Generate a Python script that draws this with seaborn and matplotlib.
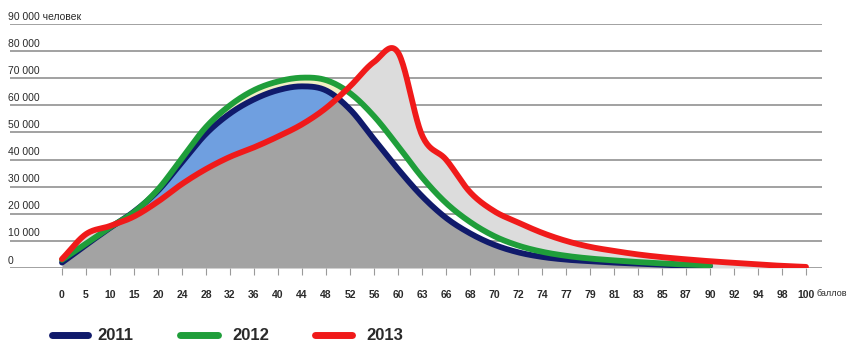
import numpy as np
import pandas as pd
import matplotlib
matplotlib.use("Agg")
import matplotlib.pyplot as plt
from matplotlib.lines import Line2D
import seaborn as sns

# Score categories along the x axis (equally spaced)
score_labels = ["0", "5", "10", "15", "20", "24", "28", "32", "36", "40", "44", "48",
                "52", "56", "60", "63", "66", "68", "70", "72", "74", "77", "79", "81",
                "83", "85", "87", "90", "92", "94", "98", "100"]

# Number of participants per score, by year
students_2011 = [2000, 8500, 14800, 20800, 28500, 39000, 49500, 57000, 62200, 65600,
                 67000, 65500, 58500, 47500, 36500, 26500, 18500, 12800, 8600, 5800,
                 4100, 3100, 2500, 2000, 1600, 1200, 900, 700]
students_2012 = [3000, 9000, 15000, 20600, 29000, 40500, 52000, 60000, 65600, 68800,
                 70200, 69300, 64500, 56000, 45000, 33500, 24000, 17000, 11800, 8300,
                 6000, 4500, 3500, 2800, 2200, 1700, 1300, 1000]
students_2013 = [3300, 12500, 15500, 19000, 24500, 31000, 36500, 41000, 44500, 48500,
                 53000, 59000, 67000, 76000, 79500, 49000, 40000, 28000, 21000, 16800,
                 13000, 10000, 7800, 6300, 5000, 4000, 3200, 2500, 1900, 1300, 800, 400]

y_ticks = [0, 10000, 20000, 30000, 40000, 50000, 60000, 70000, 80000, 90000]
y_tick_labels = ["0", "10 000", "20 000", "30 000", "40 000", "50 000", "60 000",
                 "70 000", "80 000", "90 000 человек"]
years = ["2011", "2012", "2013"]
colors = {"2011": "#101a6b", "2012": "#1f9e3a", "2013": "#f01a1a"}

STEPS = 24
W, H = 853, 345


def smooth(values):
    """Catmull-Rom curve through equally spaced category positions."""
    p = np.asarray(values, dtype=float)
    ext = np.concatenate([[2 * p[0] - p[1]], p, [2 * p[-1] - p[-2]]])
    xs, ys = [], []
    t = np.linspace(0, 1, STEPS, endpoint=False)
    for k in range(len(p) - 1):
        p0, p1, p2, p3 = ext[k], ext[k + 1], ext[k + 2], ext[k + 3]
        y = 0.5 * ((2 * p1) + (-p0 + p2) * t + (2 * p0 - 5 * p1 + 4 * p2 - p3) * t ** 2
                   + (-p0 + 3 * p1 - 3 * p2 + p3) * t ** 3)
        xs.append(k + t)
        ys.append(y)
    xs.append([len(p) - 1])
    ys.append([p[-1]])
    return np.concatenate(xs), np.concatenate(ys)


x11, y11 = smooth(students_2011)
x12, y12 = smooth(students_2012)
x13, y13 = smooth(students_2013)

curves = pd.concat([
    pd.DataFrame({"pos": x11, "students": y11, "year": "2011"}),
    pd.DataFrame({"pos": x12, "students": y12, "year": "2012"}),
    pd.DataFrame({"pos": x13, "students": y13, "year": "2013"}),
], ignore_index=True)

sns.set_theme(style="white")
plt.rcParams["font.family"] = ["Liberation Sans Narrow", "Liberation Sans", "DejaVu Sans"]

fig = plt.figure(figsize=(W / 100, H / 100), dpi=100)
ax = fig.add_axes([10 / W, 1 - 268 / H, 812 / W, 244 / H])

# Shaded areas between the three distributions
n = len(x11)
y13c = y13[:n]
low = np.minimum(np.minimum(y11, y12), y13c)
ax.fill_between(x11, 0, low, color="#a3a3a3", lw=0, zorder=1)
ax.fill_between(x11, y13c, y11, where=y11 > y13c, color="#6f9fe0", lw=0,
                interpolate=True, zorder=1)
top_other = np.maximum(y11, y12)
ax.fill_between(x11, np.maximum(y11, y13c), y12, where=y12 > np.maximum(y11, y13c),
                color="#f1efc4", lw=0, interpolate=True, zorder=1)
ax.fill_between(x11, top_other, y13c, where=y13c > top_other, color="#dcdcdc", lw=0,
                interpolate=True, zorder=1)
ax.fill_between(x13[n - 1:], 0, y13[n - 1:], color="#dcdcdc", lw=0, zorder=1)

# Horizontal grid lines
for v in y_ticks:
    ax.axhline(v, color="#9a9a9a", lw=1.3, zorder=0.5)

sns.lineplot(data=curves, x="pos", y="students", hue="year", hue_order=years,
             palette=colors, lw=4.2, legend=False, sort=False, ax=ax, zorder=3,
             solid_capstyle="round")

ax.set_xlim(-52 / 24, 31 + 16 / 24)
ax.set_ylim(0, 90000)
for s in ax.spines.values():
    s.set_visible(False)
ax.set_xlabel("")
ax.set_ylabel("")
ax.set_yticks([])

ax.set_xticks(range(len(score_labels)))
ax.set_xticklabels(score_labels, fontsize=7.5, fontweight="bold", color="#2a2a2a")
ax.tick_params(axis="x", bottom=True, length=5, width=0.8, color="#9a9a9a", pad=11)
fig.text(817 / W, 1 - 293 / H, "баллов", fontsize=6.5, color="#2a2a2a",
         ha="left", va="center")

# Y labels sit just above their grid lines at the left edge
for v, lab in zip(y_ticks, y_tick_labels):
    ax.text(-0.0025, v + 900, lab, transform=ax.get_yaxis_transform(),
            fontsize=7.5, color="#2a2a2a", ha="left", va="bottom")

# Legend row beneath the chart
legend_y = 1 - 335 / H
for year, (x0, x1, xt) in zip(years, [(52, 88, 97), (180, 218, 232), (315, 352, 366)]):
    fig.add_artist(Line2D([x0 / W, x1 / W], [legend_y, legend_y], color=colors[year],
                          lw=5, transform=fig.transFigure))
    fig.text(xt / W, legend_y, year, fontsize=12, fontweight="bold", color="#2a2a2a",
             ha="left", va="center")

fig.savefig("out.png", dpi=100)
